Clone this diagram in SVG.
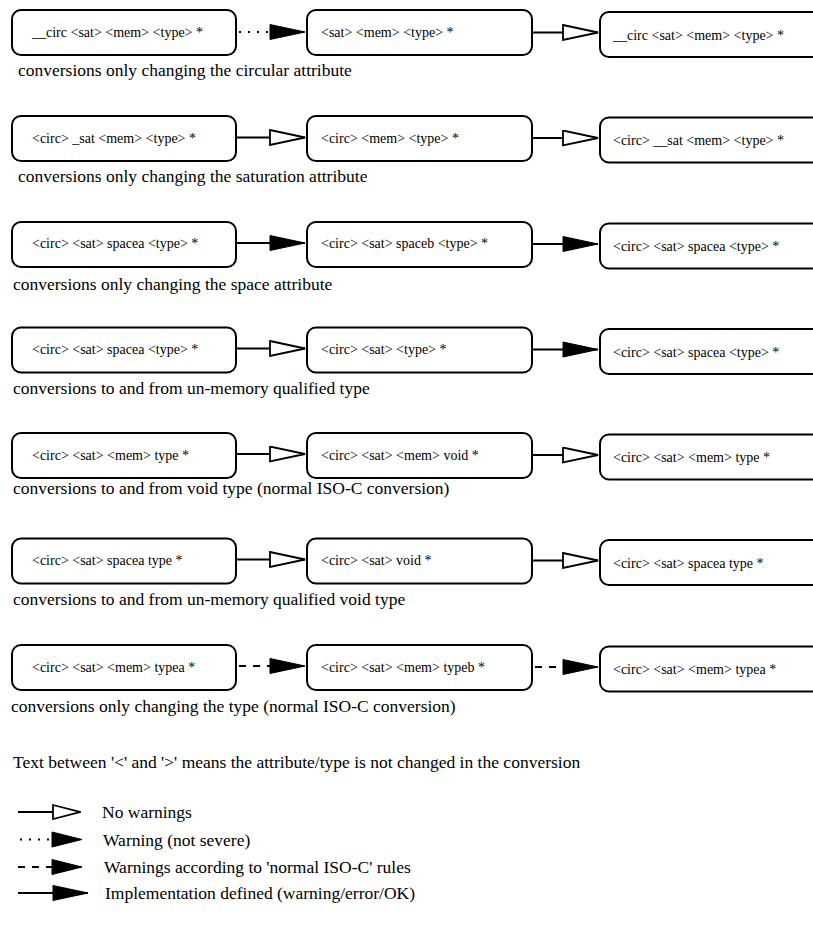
<svg xmlns="http://www.w3.org/2000/svg" width="813" height="929" viewBox="0 0 813 929">
<style>
  .box { fill: #fff; stroke: #000; stroke-width: 2; }
  .bt { font-family: "Liberation Serif", "Times New Roman", serif; font-size: 14px; fill: #000; }
  .cap { font-family: "Liberation Serif", "Times New Roman", serif; font-size: 17.5px; fill: #000; }
  .ln { fill: none; stroke: #000; stroke-width: 1.8; }
  .dot { stroke-dasharray: 2 7; stroke-width: 2; }
  .dash { stroke-dasharray: 7 7; }
  .hol { marker-end: url(#hollow); }
  .fil { marker-end: url(#filled); }
</style>
<defs>
  <marker id="hollow" markerUnits="userSpaceOnUse" viewBox="-1 -1 37 17" refX="35" refY="7.5" markerWidth="37" markerHeight="17" orient="auto">
    <path d="M0,0 L35,7.5 L0,15 Z" fill="#fff" stroke="#000" stroke-width="1.8" stroke-dasharray="none"/>
  </marker>
  <marker id="filled" markerUnits="userSpaceOnUse" viewBox="-1 -1 37 17" refX="35" refY="7.5" markerWidth="37" markerHeight="17" orient="auto">
    <path d="M0,0 L35,7.5 L0,15 Z" fill="#000" stroke="#000" stroke-width="1" stroke-dasharray="none"/>
  </marker>
  <marker id="hollowS" markerUnits="userSpaceOnUse" viewBox="-1 -1 29 16" refX="27" refY="7" markerWidth="29" markerHeight="16" orient="auto">
    <path d="M0,0 L27,7 L0,14 Z" fill="#fff" stroke="#000" stroke-width="1.8" stroke-dasharray="none"/>
  </marker>
  <marker id="filledS" markerUnits="userSpaceOnUse" viewBox="-1 -1 32 17" refX="30" refY="7.5" markerWidth="32" markerHeight="17" orient="auto">
    <path d="M0,0 L30,7.5 L0,15 Z" fill="#000" stroke="#000" stroke-width="1" stroke-dasharray="none"/>
  </marker>
</defs>

<!-- Row 1 -->
<g id="r1a"><rect class="box" x="12" y="10" width="224" height="45" rx="9"/><text class="bt" x="32" y="37">__circ &lt;sat&gt; &lt;mem&gt; &lt;type&gt; *</text></g>
<g id="r1b"><rect class="box" x="307" y="10" width="225" height="45" rx="9"/><text class="bt" x="321" y="37">&lt;sat&gt; &lt;mem&gt; &lt;type&gt; *</text></g>
<g id="r1c"><rect class="box" x="600" y="12" width="225" height="45" rx="9"/><text class="bt" x="613" y="39.5">__circ &lt;sat&gt; &lt;mem&gt; &lt;type&gt; *</text></g>
<text class="cap" x="18" y="76">conversions only changing the circular attribute</text>

<!-- Row 2 -->
<g id="r2a"><rect class="box" x="12" y="116" width="224" height="45" rx="9"/><text class="bt" x="32" y="142.5">&lt;circ&gt; _sat &lt;mem&gt; &lt;type&gt; *</text></g>
<g id="r2b"><rect class="box" x="307" y="116" width="225" height="45" rx="9"/><text class="bt" x="321" y="142.5">&lt;circ&gt; &lt;mem&gt; &lt;type&gt; *</text></g>
<g id="r2c"><rect class="box" x="600" y="117.5" width="225" height="45" rx="9"/><text class="bt" x="613" y="145">&lt;circ&gt; __sat &lt;mem&gt; &lt;type&gt; *</text></g>
<text class="cap" x="18" y="182">conversions only changing the saturation attribute</text>

<!-- Row 3 -->
<g id="r3a"><rect class="box" x="12" y="222" width="224" height="45" rx="9"/><text class="bt" x="32" y="248">&lt;circ&gt; &lt;sat&gt; spacea &lt;type&gt; *</text></g>
<g id="r3b"><rect class="box" x="307" y="222" width="225" height="45" rx="9"/><text class="bt" x="321" y="248">&lt;circ&gt; &lt;sat&gt; spaceb &lt;type&gt; *</text></g>
<g id="r3c"><rect class="box" x="600" y="223.5" width="225" height="45" rx="9"/><text class="bt" x="613" y="251">&lt;circ&gt; &lt;sat&gt; spacea &lt;type&gt; *</text></g>
<text class="cap" x="13" y="290">conversions only changing the space attribute</text>

<!-- Row 4 -->
<g id="r4a"><rect class="box" x="12" y="327.5" width="224" height="45" rx="9"/><text class="bt" x="32" y="354">&lt;circ&gt; &lt;sat&gt; spacea &lt;type&gt; *</text></g>
<g id="r4b"><rect class="box" x="307" y="327.5" width="225" height="45" rx="9"/><text class="bt" x="321" y="354">&lt;circ&gt; &lt;sat&gt; &lt;type&gt; *</text></g>
<g id="r4c"><rect class="box" x="600" y="329" width="225" height="45" rx="9"/><text class="bt" x="613" y="356.5">&lt;circ&gt; &lt;sat&gt; spacea &lt;type&gt; *</text></g>
<text class="cap" x="13" y="394">conversions to and from un-memory qualified type</text>

<!-- Row 5 -->
<g id="r5a"><rect class="box" x="12" y="433" width="224" height="45" rx="9"/><text class="bt" x="32" y="459.5">&lt;circ&gt; &lt;sat&gt; &lt;mem&gt; type *</text></g>
<g id="r5b"><rect class="box" x="307" y="433" width="225" height="45" rx="9"/><text class="bt" x="321" y="459.5">&lt;circ&gt; &lt;sat&gt; &lt;mem&gt; void *</text></g>
<g id="r5c"><rect class="box" x="600" y="434.5" width="225" height="45" rx="9"/><text class="bt" x="613" y="462">&lt;circ&gt; &lt;sat&gt; &lt;mem&gt; type *</text></g>
<text class="cap" x="13" y="494">conversions to and from void type (normal ISO-C conversion)</text>

<!-- Row 6 -->
<g id="r6a"><rect class="box" x="12" y="538.5" width="224" height="45" rx="9"/><text class="bt" x="32" y="565">&lt;circ&gt; &lt;sat&gt; spacea type *</text></g>
<g id="r6b"><rect class="box" x="307" y="538.5" width="225" height="45" rx="9"/><text class="bt" x="321" y="565">&lt;circ&gt; &lt;sat&gt; void *</text></g>
<g id="r6c"><rect class="box" x="600" y="540" width="225" height="45" rx="9"/><text class="bt" x="613" y="567.5">&lt;circ&gt; &lt;sat&gt; spacea type *</text></g>
<text class="cap" x="13" y="605">conversions to and from un-memory qualified void type</text>

<!-- Row 7 -->
<g id="r7a"><rect class="box" x="12" y="645" width="224" height="45" rx="9"/><text class="bt" x="32" y="671.5">&lt;circ&gt; &lt;sat&gt; &lt;mem&gt; typea *</text></g>
<g id="r7b"><rect class="box" x="307" y="645" width="225" height="45" rx="9"/><text class="bt" x="321" y="671.5">&lt;circ&gt; &lt;sat&gt; &lt;mem&gt; typeb *</text></g>
<g id="r7c"><rect class="box" x="600" y="646.5" width="225" height="45" rx="9"/><text class="bt" x="613" y="674">&lt;circ&gt; &lt;sat&gt; &lt;mem&gt; typea *</text></g>
<text class="cap" x="11" y="712">conversions only changing the type (normal ISO-C conversion)</text>

<!-- Connectors -->
<g id="connectors">
  <line class="ln dot fil" x1="239" y1="32" x2="305" y2="32"/>
  <line class="ln hol" x1="532" y1="32.5" x2="598" y2="32.5"/>

  <line class="ln hol" x1="236" y1="137.5" x2="305" y2="137.5"/>
  <line class="ln hol" x1="532" y1="138" x2="598" y2="138"/>

  <line class="ln fil" x1="236" y1="243" x2="305" y2="243"/>
  <line class="ln fil" x1="532" y1="244" x2="598" y2="244"/>

  <line class="ln hol" x1="236" y1="348.5" x2="305" y2="348.5"/>
  <line class="ln fil" x1="532" y1="349.5" x2="598" y2="349.5"/>

  <line class="ln hol" x1="236" y1="454" x2="305" y2="454"/>
  <line class="ln hol" x1="532" y1="455" x2="598" y2="455"/>

  <line class="ln hol" x1="236" y1="559.5" x2="305" y2="559.5"/>
  <line class="ln hol" x1="532" y1="560.5" x2="598" y2="560.5"/>

  <line class="ln dash fil" x1="239" y1="666" x2="305" y2="666"/>
  <line class="ln dash fil" x1="535" y1="667" x2="598" y2="667"/>
</g>

<!-- Legend -->
<text class="cap" x="13" y="768">Text between '&lt;' and '&gt;' means the attribute/type is not changed in the conversion</text>
<g id="legend">
  <line class="ln" x1="18" y1="812" x2="80" y2="812" marker-end="url(#hollowS)"/>
  <text class="cap" x="102" y="818">No warnings</text>
  <line class="ln dot" x1="20" y1="839.5" x2="82" y2="839.5" marker-end="url(#filledS)"/>
  <text class="cap" x="103" y="846">Warning (not severe)</text>
  <line class="ln dash" x1="18" y1="867" x2="82" y2="867" marker-end="url(#filledS)"/>
  <text class="cap" x="104" y="873">Warnings according to 'normal ISO-C' rules</text>
  <line class="ln" x1="18" y1="893" x2="88" y2="893" marker-end="url(#filled)"/>
  <text class="cap" x="105" y="899">Implementation defined (warning/error/OK)</text>
</g>
</svg>
